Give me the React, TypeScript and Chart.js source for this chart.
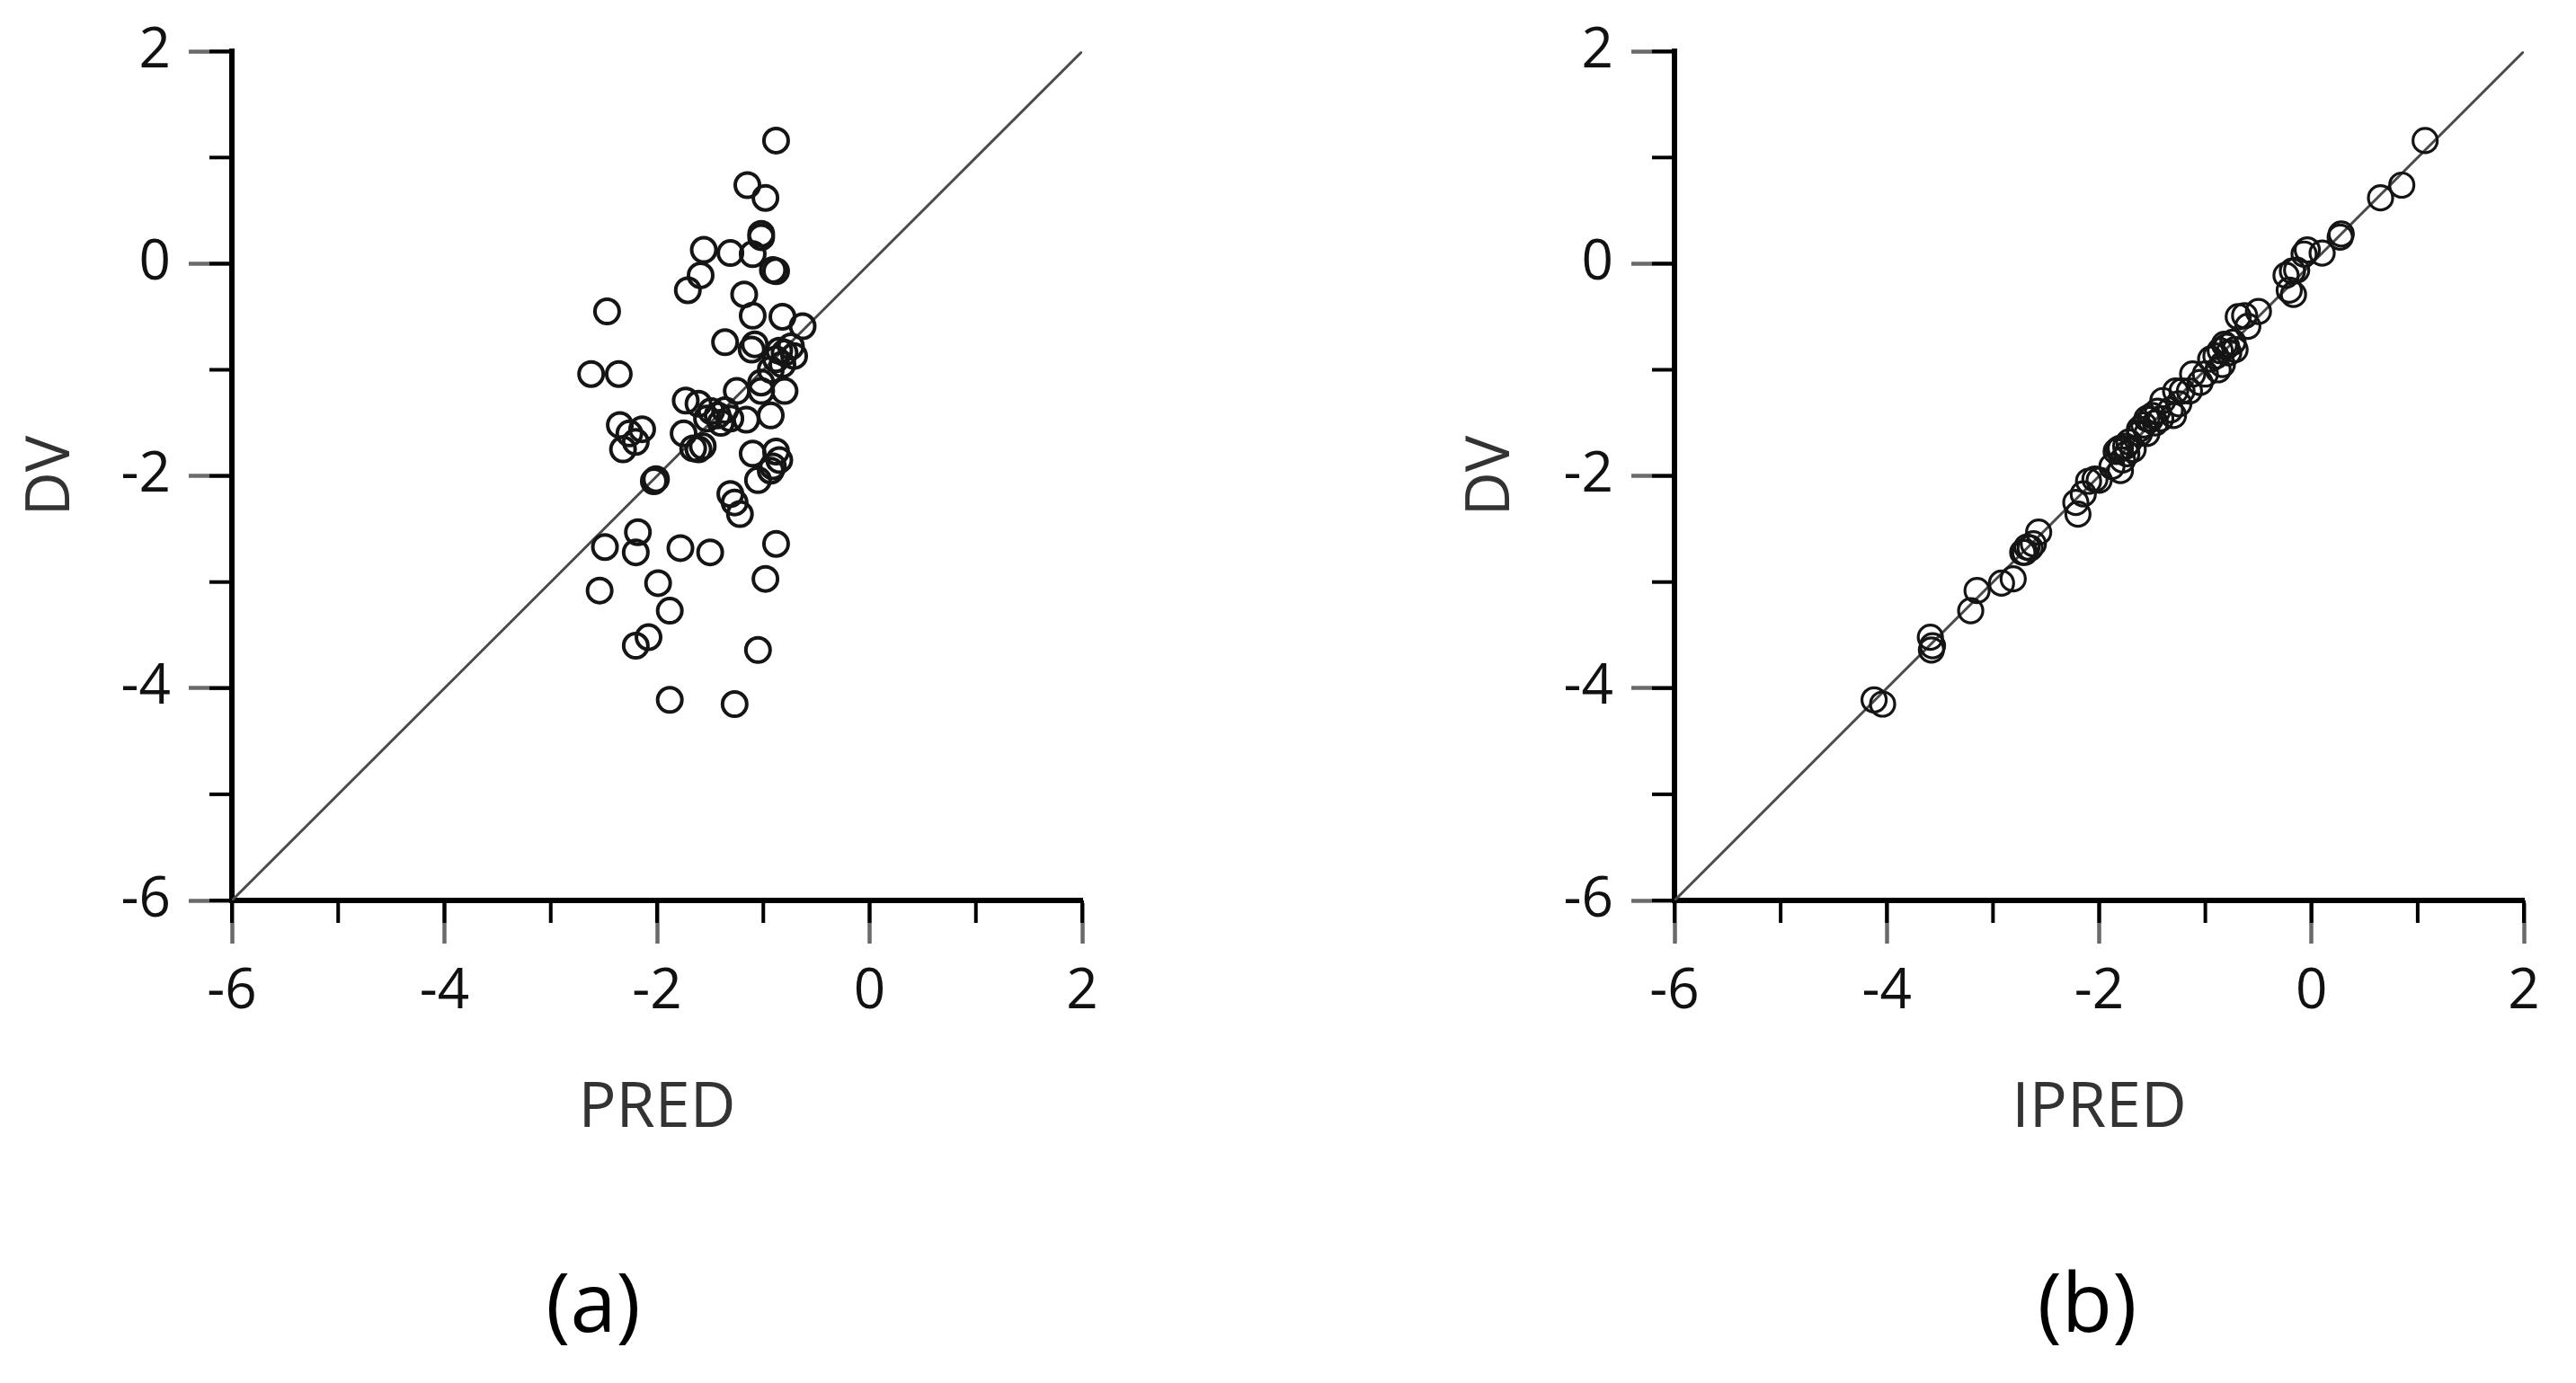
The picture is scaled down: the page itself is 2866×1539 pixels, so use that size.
import React, { useEffect, useRef } from 'react';
import { Chart, registerables } from 'chart.js';

Chart.register(...registerables);

// ---------- data ----------
const AXIS_MIN = -6;
const AXIS_MAX = 2;
const TICK_STEP = 1;
const LABEL_STEP = 2;

const predValues = [
  -0.88, -1.15, -0.98, -1.02, -1.02, -1.56, -1.31, -1.10, -0.91, -0.88,
  -1.59, -1.71, -2.47, -1.18, -1.10, -0.82, -0.63, -1.36, -1.08, -1.11,
  -0.85, -0.80, -0.88, -0.74, -0.82, -0.71, -2.62, -2.36, -0.93, -1.25,
  -1.02, -1.02, -0.80, -0.93, -1.16, -1.73, -1.61, -1.49, -1.53, -1.43,
  -1.36, -1.31, -1.40, -1.75, -1.61, -1.66, -1.57, -2.35, -2.26, -2.14,
  -2.32, -2.20, -1.10, -0.88, -0.91, -0.85, -1.05, -0.93, -2.03, -2.01,
  -1.31, -1.27, -1.22, -2.18, -2.49, -2.20, -1.78, -1.50, -0.88, -0.98,
  -1.99, -2.54, -1.88, -2.20, -2.08, -1.05, -1.88, -1.27,
];

const dvValues = [
  1.16, 0.74, 0.62, 0.28, 0.25, 0.13, 0.10, 0.09, -0.06, -0.07,
  -0.11, -0.25, -0.45, -0.29, -0.49, -0.50, -0.59, -0.74, -0.76, -0.81,
  -0.82, -0.84, -0.90, -0.78, -0.95, -0.87, -1.04, -1.04, -1.00, -1.20,
  -1.20, -1.12, -1.20, -1.43, -1.47, -1.29, -1.32, -1.39, -1.46, -1.43,
  -1.38, -1.46, -1.50, -1.60, -1.75, -1.74, -1.72, -1.52, -1.60, -1.56,
  -1.75, -1.68, -1.79, -1.77, -1.91, -1.85, -2.04, -1.95, -2.05, -2.03,
  -2.17, -2.25, -2.36, -2.53, -2.67, -2.72, -2.68, -2.72, -2.64, -2.97,
  -3.01, -3.08, -3.27, -3.60, -3.52, -3.64, -4.11, -4.15,
];

const ipredValues = [
  1.07, 0.85, 0.65, 0.28, 0.27, -0.04, 0.10, -0.07, -0.14, -0.18,
  -0.24, -0.21, -0.50, -0.17, -0.63, -0.69, -0.60, -0.74, -0.82, -0.72,
  -0.86, -0.78, -0.95, -0.80, -0.84, -0.90, -1.00, -1.12, -0.88, -1.15,
  -1.28, -1.05, -1.22, -1.30, -1.52, -1.40, -1.25, -1.45, -1.42, -1.50,
  -1.33, -1.55, -1.47, -1.62, -1.68, -1.80, -1.75, -1.58, -1.55, -1.62,
  -1.82, -1.72, -1.74, -1.84, -1.88, -1.78, -2.00, -1.80, -2.10, -2.04,
  -2.15, -2.22, -2.20, -2.57, -2.68, -2.72, -2.65, -2.70, -2.62, -2.81,
  -2.92, -3.15, -3.21, -3.57, -3.59, -3.58, -4.12, -4.04,
];

const xTitles = ['PRED', 'IPRED'];
const yTitle = 'DV';
const captions = ['(a)', '(b)'];

// ---------- styling / layout ----------
const FONT = '"Open Sans", "Noto Sans", sans-serif';
const CANVAS_W = 1433;
const CANVAS_H = 1539;

type Geom = { padLeft: number; yAxisW: number; padRight: number };

const panelGeoms: Geom[] = [
  { padLeft: 0, yAxisW: 258, padRight: 229 },
  { padLeft: 169, yAxisW: 261, padRight: 58 },
];

const minorTicksPlugin = {
  id: 'minorTicks',
  afterDraw(chart: any) {
    const { ctx, chartArea, scales } = chart;
    const xs = scales.x;
    const ys = scales.y;
    ctx.save();
    ctx.strokeStyle = '#000';
    ctx.lineWidth = 4;
    ctx.lineCap = 'butt';
    xs.ticks.forEach((t: any) => {
      const px = xs.getPixelForValue(t.value);
      ctx.beginPath();
      ctx.moveTo(px, chartArea.bottom);
      ctx.lineTo(px, chartArea.bottom + 25);
      ctx.stroke();
    });
    ys.ticks.forEach((t: any) => {
      const py = ys.getPixelForValue(t.value);
      ctx.beginPath();
      ctx.moveTo(chartArea.left, py);
      ctx.lineTo(chartArea.left - 25, py);
      ctx.stroke();
    });
    ctx.restore();
  },
};

function isLabelled(v: number) {
  return Math.round(v) % LABEL_STEP === 0;
}

function makeConfig(xs: number[], xTitle: string, g: Geom, ptWidth: number): any {
  const points = xs.map((x, i) => ({ x, y: dvValues[i] }));
  const identity = [
    { x: AXIS_MIN, y: AXIS_MIN },
    { x: AXIS_MAX, y: AXIS_MAX },
  ];
  const tickColor = (c: any) =>
    c.tick && isLabelled(c.tick.value) ? '#6a6a6a' : 'rgba(0,0,0,0)';
  const tickFont = { family: FONT, size: 62 };
  return {
    type: 'scatter',
    data: {
      datasets: [
        {
          type: 'scatter',
          data: points,
          pointStyle: 'circle',
          pointRadius: 13.5,
          radius: 13.5,
          pointBorderWidth: ptWidth,
          borderWidth: ptWidth,
          pointBorderColor: '#151515',
          borderColor: '#151515',
          pointBackgroundColor: 'rgba(0,0,0,0)',
          backgroundColor: 'rgba(0,0,0,0)',
        },
        {
          type: 'line',
          data: identity,
          borderColor: '#4a4a4a',
          borderWidth: 3,
          pointRadius: 0,
          fill: false,
          tension: 0,
        },
      ],
    },
    options: {
      responsive: false,
      animation: false,
      events: [],
      layout: {
        padding: { left: g.padLeft, right: g.padRight, top: 53, bottom: 247 },
      },
      plugins: {
        legend: { display: false },
        tooltip: { enabled: false },
        title: { display: false },
      },
      scales: {
        x: {
          type: 'linear',
          min: AXIS_MIN,
          max: AXIS_MAX,
          ticks: {
            stepSize: TICK_STEP,
            autoSkip: false,
            maxRotation: 0,
            padding: 17,
            color: '#111',
            font: tickFont,
            callback: (v: number) => (isLabelled(v) ? String(v) : ''),
          },
          grid: {
            display: true,
            drawOnChartArea: false,
            drawTicks: true,
            tickLength: 48,
            tickWidth: 4.5,
            tickColor,
          },
          border: { display: true, color: '#000', width: 6 },
          title: {
            display: true,
            text: xTitle,
            color: '#333',
            font: { family: FONT, size: 70 },
            padding: { top: 0, bottom: 16 },
          },
          afterFit: (s: any) => {
            s.height = 290;
          },
        },
        y: {
          type: 'linear',
          min: AXIS_MIN,
          max: AXIS_MAX,
          ticks: {
            stepSize: TICK_STEP,
            autoSkip: false,
            padding: 20,
            color: '#111',
            font: tickFont,
            callback: (v: number) => (isLabelled(v) ? String(v) : ''),
          },
          grid: {
            display: true,
            drawOnChartArea: false,
            drawTicks: true,
            tickLength: 48,
            tickWidth: 4.5,
            tickColor,
          },
          border: { display: true, color: '#000', width: 6 },
          title: {
            display: true,
            text: yTitle,
            color: '#333',
            font: { family: FONT, size: 68 },
            padding: { top: 17, bottom: 0 },
          },
          afterFit: (s: any) => {
            s.width = g.yAxisW;
          },
        },
      },
    },
    plugins: [minorTicksPlugin],
  };
}

function Panel({ xs, xTitle, geom, left, ptWidth }: { xs: number[]; xTitle: string; geom: Geom; left: number; ptWidth: number }) {
  const ref = useRef<HTMLCanvasElement | null>(null);
  useEffect(() => {
    if (!ref.current) return;
    const chart = new Chart(ref.current, makeConfig(xs, xTitle, geom, ptWidth));
    return () => chart.destroy();
  }, [xs, xTitle, geom, ptWidth]);
  return (
    <canvas
      ref={ref}
      width={CANVAS_W}
      height={CANVAS_H}
      style={{ position: 'absolute', left, top: 0, width: CANVAS_W, height: CANVAS_H, display: 'block' }}
    />
  );
}

const captionStyle = (cx: number): React.CSSProperties => ({
  position: 'absolute',
  left: cx,
  top: 1447,
  transform: 'translate(-50%, -50%)',
  fontFamily: FONT,
  fontSize: 92,
  lineHeight: 1,
  color: '#000',
  whiteSpace: 'nowrap',
});

export default function App() {
  return (
    <div style={{ position: 'absolute', left: 0, top: 0, width: 2866, height: 1539, background: '#fff', overflow: 'hidden' }}>
      <Panel xs={predValues} xTitle={xTitles[0]} geom={panelGeoms[0]} left={0} ptWidth={4} />
      <Panel xs={ipredValues} xTitle={xTitles[1]} geom={panelGeoms[1]} left={1433} ptWidth={3.2} />
      <div style={captionStyle(660)}>{captions[0]}</div>
      <div style={captionStyle(2322)}>{captions[1]}</div>
    </div>
  );
}
